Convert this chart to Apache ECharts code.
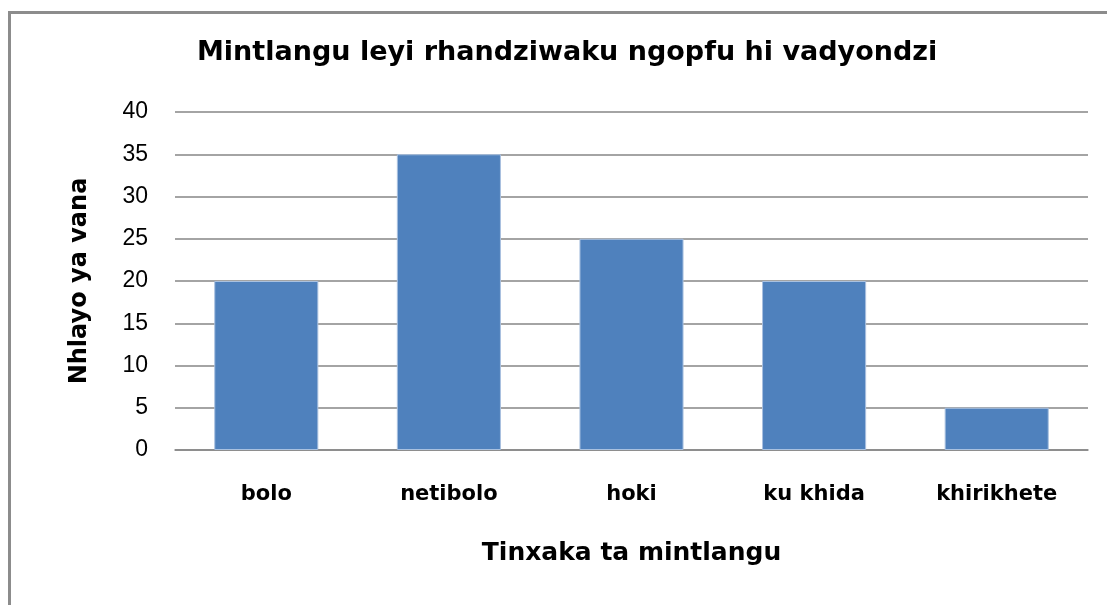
<!DOCTYPE html>
<html>
<head>
<meta charset="utf-8">
<script src="https://cdn.jsdelivr.net/npm/echarts@6/dist/echarts.min.js"></script>
<style>
  html, body { margin: 0; padding: 0; background: #fff; overflow: hidden; }
  #frame { position: absolute; left: 8px; top: 11px; width: 1300px; height: 800px;
           border: 3px solid #8c8c8c; box-sizing: border-box; }
  #chart { position: absolute; left: 0; top: 0; width: 1107px; height: 605px; }
</style>
</head>
<body>
<div id="frame"></div>
<div id="chart"></div>
<script>
// sports and how many learners picked them
const categories = ["bolo", "netibolo", "hoki", "ku khida", "khirikhete"];
const learners = [20, 35, 25, 20, 5];
const yTicks = { min: 0, max: 40, interval: 5 };

const chart = echarts.init(document.getElementById("chart"));
const boldFont = "'DejaVu Sans', sans-serif";
const numFont = "'Liberation Sans', Arial, sans-serif";

chart.setOption({
  animation: false,
  title: {
    text: "Mintlangu leyi rhandziwaku ngopfu hi vadyondzi",
    left: 197,
    top: 39,
    padding: 0,
    textStyle: { fontFamily: boldFont, fontSize: 27, fontWeight: "bold", color: "#000" },
  },
  grid: { left: 175, right: 19, top: 112, bottom: 155 },
  xAxis: {
    type: "category",
    data: categories,
    name: "Tinxaka ta mintlangu",
    nameLocation: "middle",
    nameGap: 91,
    nameTextStyle: { fontFamily: boldFont, fontSize: 25, fontWeight: "bold", color: "#000" },
    axisLine: { lineStyle: { color: "#868686", width: 1.5 } },
    axisTick: { show: false },
    axisLabel: { fontFamily: boldFont, fontSize: 21, fontWeight: "bold", color: "#000", margin: 34 },
  },
  yAxis: {
    type: "value",
    min: yTicks.min,
    max: yTicks.max,
    interval: yTicks.interval,
    name: "Nhlayo ya vana",
    nameLocation: "middle",
    nameGap: 83,
    nameRotate: 90,
    nameTextStyle: { fontFamily: boldFont, fontSize: 24, fontWeight: "bold", color: "#000" },
    axisLine: { show: false },
    axisTick: { show: false },
    axisLabel: { fontFamily: numFont, fontSize: 23, color: "#000", margin: 27 },
    splitLine: { lineStyle: { color: "#868686", width: 1.5 } },
  },
  series: [
    {
      type: "bar",
      data: learners,
      barCategoryGap: "43%",
      itemStyle: { color: "#4f81bd", borderColor: "#a9c1e0", borderWidth: 1 },
    },
  ],
});
</script>
</body>
</html>
